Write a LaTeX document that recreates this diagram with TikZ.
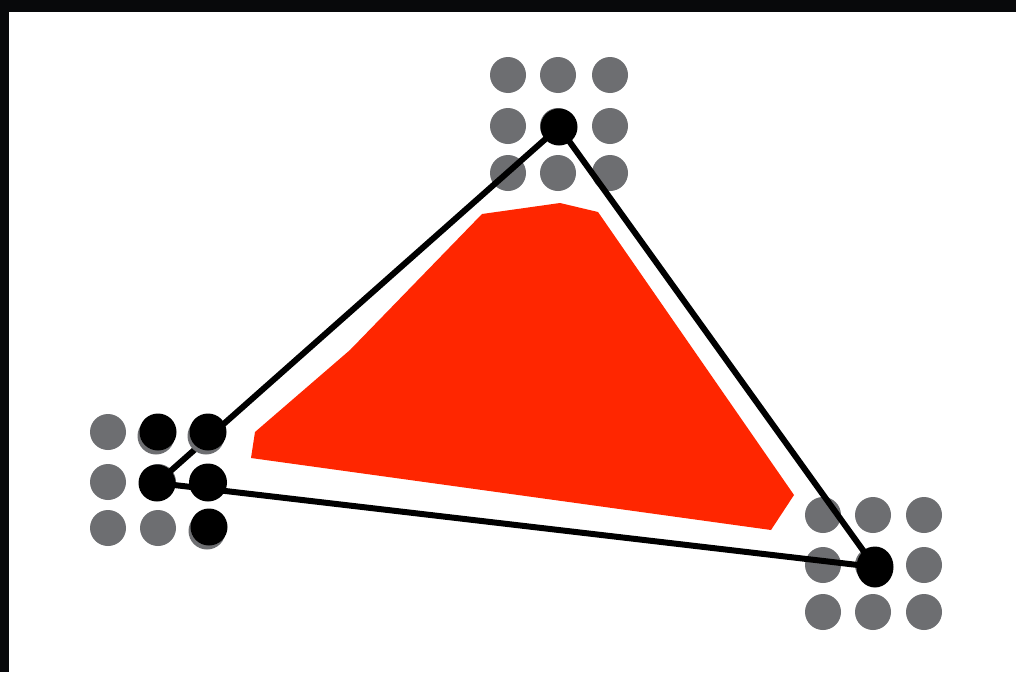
\documentclass[tikz,border=0pt]{standalone}
\usetikzlibrary{shapes.geometric}
\begin{document}
\begin{tikzpicture}[x=1pt,y=-1pt,
  graydot/.style={circle,fill=dotgray,inner sep=0pt,minimum size=36pt},
  blackdot/.style={circle,fill=black,inner sep=0pt,minimum size=37pt},
  shadowdot/.style={circle,fill=dotgray,inner sep=0pt,minimum size=37pt},
  edge/.style={line width=6pt,draw=black}]
\definecolor{dotgray}{HTML}{6D6E71}
\definecolor{fillred}{HTML}{FF2600}
\definecolor{bg}{HTML}{08090B}
\useasboundingbox (0,0) rectangle (1016,672);
\fill[bg] (0,0) rectangle (1016,672);
\fill[white] (9,12) rectangle (1016,672);
% red region
\fill[fillred] (255,432) -- (350,350) -- (482,214) -- (560,203) -- (598,212) -- (794,495) -- (771,530) -- (251,458) -- cycle;
% gray grids
\foreach \x in {108,158,208} \foreach \y in {432,482,528} \node[graydot] at (\x,\y) {};
\foreach \x in {508,558,610} \foreach \y in {75,126,173} \node[graydot] at (\x,\y) {};
\foreach \x in {823,873,924} \foreach \y in {515,565,612} \node[graydot] at (\x,\y) {};
% vertices
\coordinate (top) at (559,127);
\coordinate (left) at (157,483);
\coordinate (right) at (875,567);
\draw[edge] (top) -- (left) -- (right) -- cycle;
% shadowed black dots
\node[shadowdot] at (156,436) {};
\node[shadowdot] at (206,436) {};
\node[shadowdot] at (207,531) {};
\node[blackdot] (a) at (158,432) {};
\node[blackdot] (b) at (208,432) {};
\node[blackdot] (c) at (209,527) {};
\node[blackdot,minimum size=38pt] (d) at (208,482.5) {};
\node[blackdot] (l) at (left) {};
\node[blackdot] (t) at (top) {};
\node[blackdot,ellipse,minimum size=0pt,minimum width=37pt,minimum height=41pt] (r) at (right) {};
\end{tikzpicture}
\end{document}
